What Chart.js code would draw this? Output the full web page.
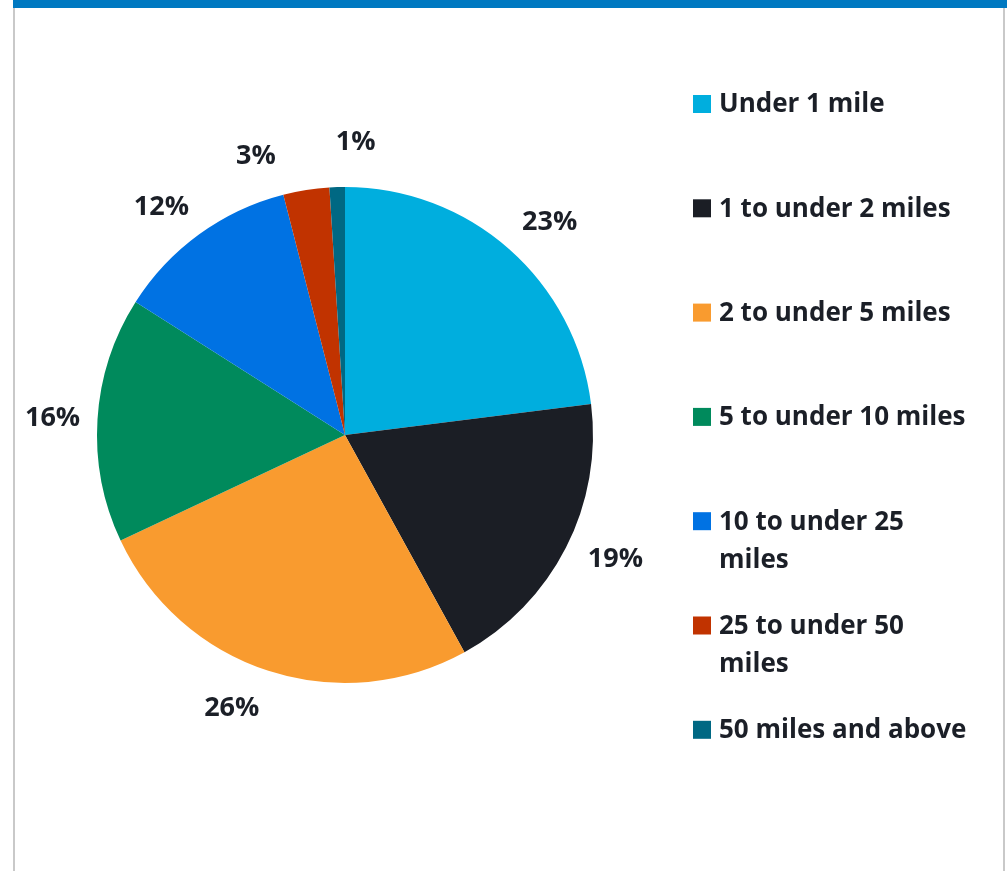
<!DOCTYPE html>
<html>
<head>
<meta charset="utf-8">
<script src="https://cdn.jsdelivr.net/npm/chart.js@4"></script>
<style>
  html, body { margin: 0; padding: 0; background: #ffffff; }
  body { width: 1007px; height: 871px; position: relative; overflow: hidden; }
  #frame {
    position: absolute; left: 13px; top: 0; width: 988px; height: 863px;
    border-top: 8px solid #0079C1;
    border-left: 2px solid #c9c9c9;
    border-right: 2px solid #c9c9c9;
  }
  #frame::before {
    content: ""; position: absolute; left: -2px; top: -8px; width: 996px; height: 8px; background: #0079C1;
  }
  #chart { position: absolute; left: 0; top: 0; }
</style>
</head>
<body>
<div id="frame"></div>
<canvas id="chart" width="1007" height="871"></canvas>
<script>
// Commute distance shares (percent)
const categories = [
  "Under 1 mile",
  "1 to under 2 miles",
  "2 to under 5 miles",
  "5 to under 10 miles",
  ["10 to under 25", "miles"],
  ["25 to under 50", "miles"],
  "50 miles and above"
];
const shares = [23, 19, 26, 16, 12, 3, 1];
const sliceColors = ["#00AEDE", "#1B1E25", "#F99B2F", "#008A5C", "#0072E3", "#C13300", "#006883"];

// small angular nudges (degrees) so the outside labels don't crowd each other
const labelNudge = [2, -2.5, 5, 0, -3, -9, 3.5];

const FONT = "'Open Sans', Lato, sans-serif";
const TEXT = "#1B1F27";

const outsideLabels = {
  id: "outsideLabels",
  afterDatasetsDraw(chart) {
    const ctx = chart.ctx;
    const meta = chart.getDatasetMeta(0);
    const data = chart.data.datasets[0].data;
    ctx.save();
    ctx.font = "bold 27px " + FONT;
    ctx.fillStyle = TEXT;
    ctx.textAlign = "center";
    ctx.textBaseline = "middle";
    meta.data.forEach((arc, i) => {
      const p = arc.getProps(["x", "y", "startAngle", "endAngle", "outerRadius"], true);
      const mid = (p.startAngle + p.endAngle) / 2 + labelNudge[i] * Math.PI / 180;
      const r = p.outerRadius + 47;
      ctx.fillText(data[i] + "%", p.x + Math.cos(mid) * r + 2, p.y + Math.sin(mid) * r + 2);
    });
    ctx.restore();
  }
};

const sideLegend = {
  id: "sideLegend",
  afterDraw(chart) {
    const ctx = chart.ctx;
    const labels = chart.data.labels;
    const colors = chart.data.datasets[0].backgroundColor;
    const x0 = 693, firstY = 104, step = 104.3, lineH = 38, box = 18;
    ctx.save();
    ctx.font = "bold 26px " + FONT;
    ctx.textAlign = "left";
    ctx.textBaseline = "middle";
    labels.forEach((lab, i) => {
      const y = firstY + i * step;
      ctx.fillStyle = colors[i];
      ctx.fillRect(x0, y - box / 2, box, box);
      ctx.fillStyle = TEXT;
      const lines = Array.isArray(lab) ? lab : [lab];
      lines.forEach((t, k) => ctx.fillText(t, x0 + 26, y + 1 + k * lineH));
    });
    ctx.restore();
  }
};

new Chart(document.getElementById("chart"), {
  type: "pie",
  data: {
    labels: categories,
    datasets: [{
      data: shares,
      backgroundColor: sliceColors,
      borderWidth: 0,
      hoverOffset: 0
    }]
  },
  options: {
    responsive: false,
    animation: false,
    layout: { padding: { left: 97, right: 414, top: 187, bottom: 188 } },
    plugins: {
      legend: { display: false },
      tooltip: { enabled: false }
    }
  },
  plugins: [outsideLabels, sideLegend]
});
</script>
</body>
</html>
